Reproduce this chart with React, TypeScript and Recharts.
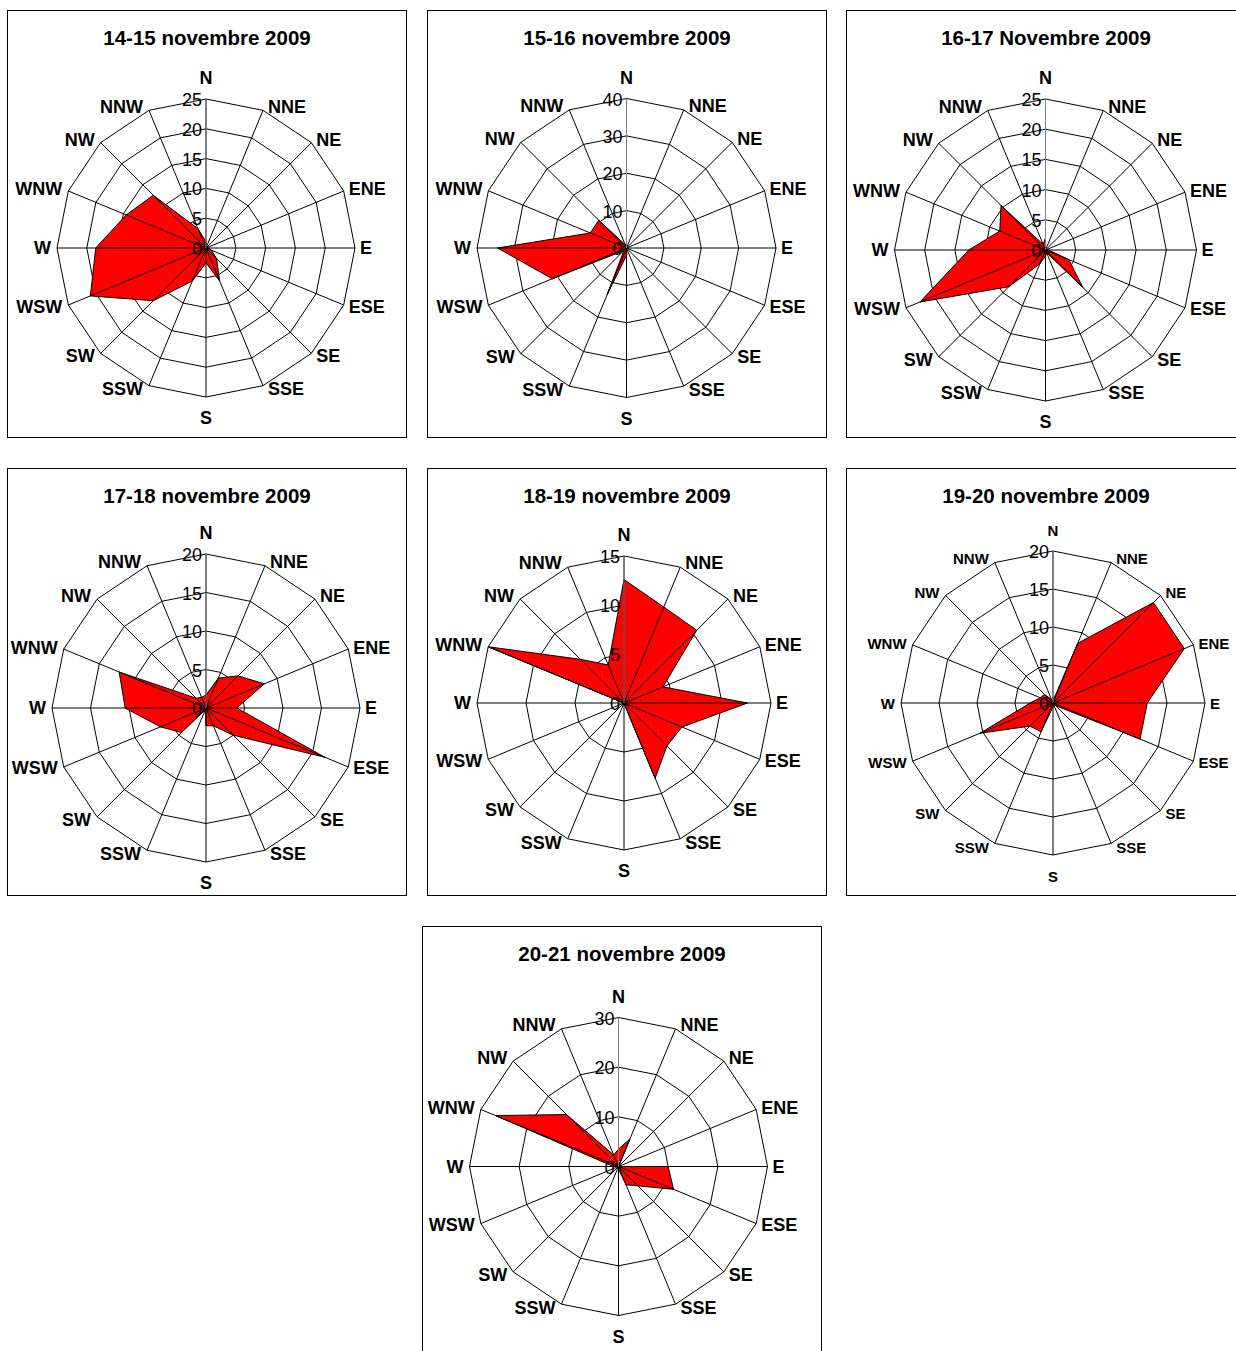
import React from "react";
import { RadarChart, Radar, PolarGrid, PolarAngleAxis, PolarRadiusAxis } from "recharts";

const DIRECTIONS = ["N", "NNE", "NE", "ENE", "E", "ESE", "SE", "SSE", "S", "SSW", "SW", "WSW", "W", "WNW", "NW", "NNW"];

// frequency per direction, N clockwise to NNW
const nov1415 = [1, 0, 0, 0, 0.5, 1, 2.5, 6, 2.5, 6, 12.5, 21, 18.5, 14.5, 12.5, 3.5];
const nov1516 = [1, 0.5, 0, 0, 0, 0, 0, 0.5, 2, 13.5, 1, 21.5, 34.5, 10.5, 10.5, 1];
const nov1617 = [2, 0, 0, 0, 0.5, 4.2, 8.7, 0.5, 1, 2.5, 8.6, 22.5, 12.7, 8.2, 10.4, 1];
const nov1718 = [1.7, 4.2, 5.9, 8.2, 4, 16.7, 5, 2.5, 2.3, 0.3, 4.5, 6.4, 10.5, 12.2, 1.8, 1.5];
const nov1819 = [12.6, 10.6, 10.5, 4.3, 12.6, 6.4, 6.2, 8.3, 0, 0, 0, 0, 0, 15, 6.3, 4.2];
const nov1920 = [0.3, 8.5, 18.7, 18.7, 12.4, 12.4, 0.5, 0.3, 0.5, 4.1, 4.3, 10.4, 3, 1.8, 1.6, 0.5];
const nov2021 = [3.5, 6, 0, 0, 10, 12, 5.5, 4, 0.5, 0, 0, 0, 1, 26.8, 14.8, 2.5];

const FONT = "'Liberation Sans', Arial, sans-serif";

const CHARTS = [
  { title: "14-15 novembre 2009", values: nov1415, max: 25, ticks: 6, left: 7, top: 10, cx: 199, cy: 238, r: 149, labelSize: 18 },
  { title: "15-16 novembre 2009", values: nov1516, max: 40, ticks: 5, left: 427, top: 10, cx: 199.5, cy: 238, r: 149.5, labelSize: 18 },
  { title: "16-17 Novembre 2009", values: nov1617, max: 25, ticks: 6, left: 846, top: 10, cx: 199.5, cy: 240, r: 151, labelSize: 18 },
  { title: "17-18 novembre 2009", values: nov1718, max: 20, ticks: 5, left: 7, top: 468, cx: 199, cy: 240, r: 154, labelSize: 18 },
  { title: "18-19 novembre 2009", values: nov1819, max: 15, ticks: 4, left: 427, top: 468, cx: 197, cy: 235, r: 147, labelSize: 18 },
  { title: "19-20 novembre 2009", values: nov1920, max: 20, ticks: 5, left: 846, top: 468, cx: 207, cy: 235, r: 152, labelSize: 15 },
  { title: "20-21 novembre 2009", values: nov2021, max: 30, ticks: 4, left: 422, top: 926, cx: 196.5, cy: 240.5, r: 149, labelSize: 18 },
];

const angleTick = (cx: number, cy: number, r: number, size: number) => (props: any) => {
  const name = props.payload.value;
  const i = DIRECTIONS.indexOf(name);
  const a = ((90 - i * 22.5) * Math.PI) / 180;
  const dx = Math.cos(a);
  const dy = -Math.sin(a);
  const vx = cx + r * dx;
  const vy = cy + r * dy;
  let x = vx;
  let y = vy;
  let anchor = "middle";
  if (Math.abs(dx) < 0.01) {
    y = vy + dy * 21;
  } else {
    x = vx + (dx > 0 ? 5 : -6);
    anchor = dx > 0 ? "start" : "end";
    y = vy + dy * 4;
  }
  return (
    <text x={x} y={y} textAnchor={anchor} dominantBaseline="central" fontSize={size} fontWeight="bold" fontFamily={FONT} fill="#000">
      {name}
    </text>
  );
};

const radiusTick = (props: any) => (
  <text x={props.x - 4} y={props.y + 1} textAnchor="end" dominantBaseline="central" fontSize={18} fontFamily={FONT} fill="#000">
    {props.payload.value}
  </text>
);

// filled polygon with the spokes drawn on top of the fill, like the Excel original
const roseShape = (cx: number, cy: number) => (props: any) => {
  const pts = props.points || [];
  return (
    <g>
      <polygon
        points={pts.map((p: any) => `${p.x},${p.y}`).join(" ")}
        fill="#FF0000"
        stroke="#000"
        strokeWidth={1}
        strokeLinejoin="miter"
      />
      {pts.map((p: any, i: number) => (
        <line key={i} x1={p.cx ?? cx} y1={p.cy ?? cy} x2={p.x} y2={p.y} stroke="#000" strokeWidth={1} />
      ))}
    </g>
  );
};

function WindRose({ chart }: { chart: any }) {
  const data = DIRECTIONS.map((d, i) => ({ dir: d, value: chart.values[i] }));
  return (
    <div
      style={{
        position: "absolute",
        left: chart.left,
        top: chart.top,
        width: 400,
        height: 428,
        outline: "1px solid #000",
        outlineOffset: -1,
        background: "#fff",
      }}
    >
      <div
        style={{
          position: "absolute",
          left: 0,
          top: 16,
          width: 400,
          textAlign: "center",
          fontFamily: FONT,
          fontWeight: "bold",
          fontSize: 20.5,
          lineHeight: "24px",
        }}
      >
        {chart.title}
      </div>
      <div style={{ position: "absolute", left: 0, top: 0 }}>
        <RadarChart
          width={400}
          height={428}
          data={data}
          cx={chart.cx}
          cy={chart.cy}
          outerRadius={chart.r}
          margin={{ top: 0, right: 0, bottom: 0, left: 0 }}
        >
          <PolarGrid gridType="polygon" stroke="#000" strokeOpacity={1} />
          <PolarAngleAxis dataKey="dir" axisLine={false} tickLine={false} tick={angleTick(chart.cx, chart.cy, chart.r, chart.labelSize)} />
          <PolarRadiusAxis
            angle={90}
            domain={[0, chart.max]}
            tickCount={chart.ticks}
            axisLine={{ stroke: "#808080" }}
            tick={radiusTick}
          />
          <Radar
            dataKey="value"
            stroke="#000"
            fill="#FF0000"
            fillOpacity={1}
            shape={roseShape(chart.cx, chart.cy)}
            isAnimationActive={false}
          />
        </RadarChart>
      </div>
    </div>
  );
}

export default function App() {
  return (
    <div style={{ position: "absolute", left: 0, top: 0, width: 1236, height: 1351, overflow: "hidden", background: "#fff" }}>
      {CHARTS.map((c) => (
        <WindRose key={c.title} chart={c} />
      ))}
    </div>
  );
}
